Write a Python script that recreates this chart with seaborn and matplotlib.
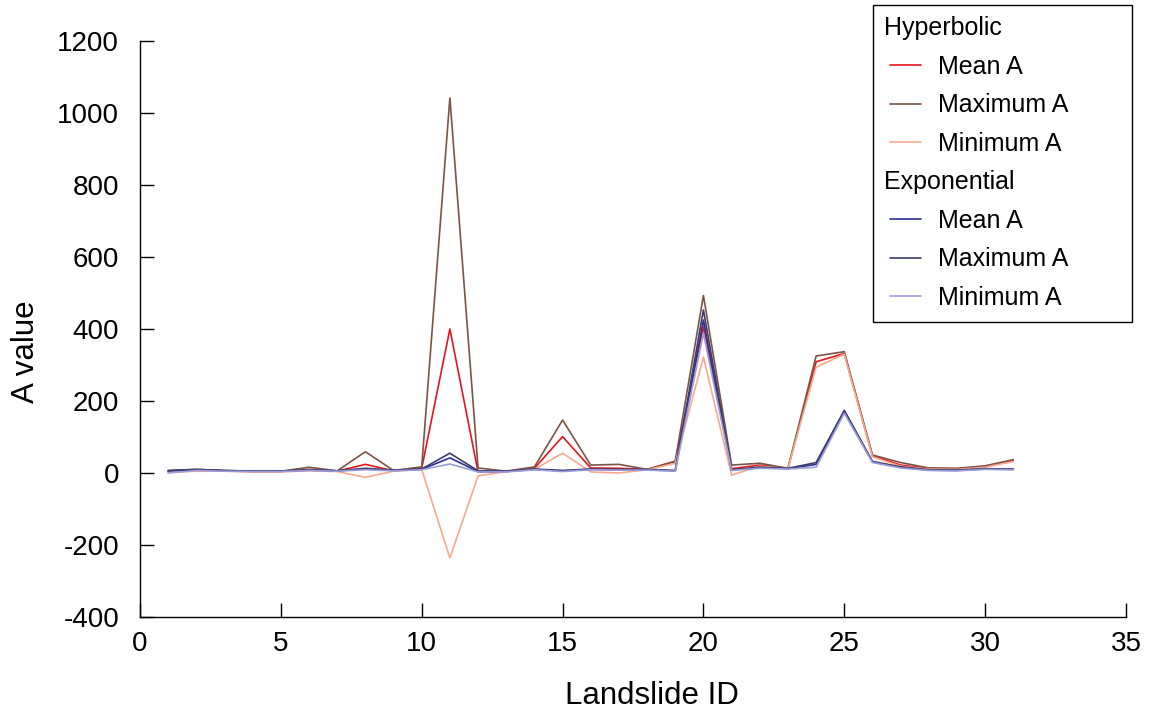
import numpy as np
import pandas as pd
import matplotlib
matplotlib.use("Agg")
import matplotlib.pyplot as plt
import seaborn as sns
from matplotlib.lines import Line2D
from matplotlib.legend_handler import HandlerLine2D

# Landslide IDs and A values
landslide_id = list(range(1, 32))

hyp_mean = [5, 8, 6, 4, 4, 10, 5, 24, 6, 13, 400, 3, 5, 13, 101, 14, 13, 10, 32, 406,
            12, 22, 13, 309, 332, 48, 22, 13, 12, 18, 34]
hyp_max = [6, 10, 7, 5, 5, 16, 6, 59, 7, 17, 1042, 14, 5, 17, 147, 22, 24, 10, 33, 493,
           22, 27, 13, 325, 337, 50, 29, 14, 13, 20, 37]
hyp_min = [2, 5, 5, 3, 3, 6, 4, -12, 5, 10, -236, -8, 4, 10, 55, 3, 0, 9, 27, 322,
           -6, 19, 12, 294, 330, 45, 19, 11, 10, 16, 32]
exp_mean = [6, 9, 6, 5, 5, 8, 6, 11, 7, 10, 42, 4, 4, 10, 6, 10, 9, 9, 6, 425,
            8, 15, 12, 24, 172, 31, 16, 8, 7, 11, 10]
exp_max = [7, 10, 7, 5, 5, 9, 6, 13, 8, 11, 55, 6, 5, 11, 7, 11, 10, 10, 7, 453,
           9, 16, 13, 29, 174, 32, 17, 9, 8, 12, 11]
exp_min = [0, 7, 5, 4, 4, 7, 5, 9, 6, 9, 25, 3, 3, 9, 4, 9, 8, 8, 5, 388,
           7, 13, 11, 16, 166, 29, 14, 7, 6, 10, 9]

series_labels = ["Mean A", "Maximum A", "Minimum A"]
hyp_colors = ["#e8141c", "#7b5446", "#f9a98c"]
exp_colors = ["#2b3191", "#3c3d6e", "#9c9ddb"]

sns.set_style("ticks")
plt.rcParams["font.family"] = ["Liberation Sans", "DejaVu Sans"]
plt.rcParams["axes.unicode_minus"] = False
plt.rcParams["text.color"] = "black"
plt.rcParams["axes.labelcolor"] = "black"

fig = plt.figure(figsize=(11.58, 7.13), dpi=100)
ax = fig.add_axes([140 / 1158, 96 / 713, 986 / 1158, 576 / 713])

hyp_series = [hyp_mean, hyp_max, hyp_min]
exp_series = [exp_mean, exp_max, exp_min]

for vals, col in zip(hyp_series, hyp_colors):
    sns.lineplot(x=landslide_id, y=vals, color=col, linewidth=1.2, ax=ax, legend=False)
for vals, col in zip(exp_series, exp_colors):
    sns.lineplot(x=landslide_id, y=vals, color=col, linewidth=1.2, ax=ax, legend=False)

ax.set_xlim(0, 35)
ax.set_ylim(-400, 1200)
ax.set_xticks(np.arange(0, 36, 5))
ax.set_yticks(np.arange(-400, 1201, 200))
ax.tick_params(axis="both", direction="in", length=10, width=1, colors="black",
               labelsize=20)
ax.tick_params(axis="y", pad=15)
ax.tick_params(axis="x", pad=10)
sns.despine(ax=ax)
for sp in ["left", "bottom"]:
    ax.spines[sp].set_color("black")
    ax.spines[sp].set_linewidth(1)

ax.set_xlabel("Landslide ID", fontsize=22.5)
ax.set_ylabel("A value", fontsize=22.5)
ax.xaxis.set_label_coords(0.519, -0.111)
ax.yaxis.set_label_coords(-0.0999, 0.46)


class IndentHandler(HandlerLine2D):
    # shift the legend line a little to the right of the header text
    def create_artists(self, legend, orig_handle, xdescent, ydescent, width, height,
                       fontsize, trans):
        return super().create_artists(legend, orig_handle, xdescent - 4, ydescent,
                                      width - 4, height, fontsize, trans)


blank = Line2D([], [], color="none")
handles = [blank] + [Line2D([], [], color=c, lw=1.2) for c in hyp_colors] \
    + [blank] + [Line2D([], [], color=c, lw=1.2) for c in exp_colors]
labels = ["Hyperbolic"] + series_labels + ["Exponential"] + series_labels
leg = ax.legend(handles, labels, loc="upper left", fontsize=18, mode="expand",
                bbox_to_anchor=(873 / 1158, 408 / 713, 259 / 1158, 300 / 713),
                bbox_transform=fig.transFigure, borderaxespad=0,
                frameon=True, fancybox=False, framealpha=1, edgecolor="black",
                handlelength=1.45, handletextpad=0.7, labelspacing=0.58,
                borderpad=0.46, handler_map={Line2D: IndentHandler()})
leg.get_frame().set_linewidth(1)

# drop the handle area on header rows so their text sits flush left
for row in leg._legend_handle_box.get_children()[0].get_children():
    da, ta = row.get_children()
    if ta.get_text() in ("Hyperbolic", "Exponential"):
        da.set_visible(False)

fig.savefig("out.png", dpi=100)
